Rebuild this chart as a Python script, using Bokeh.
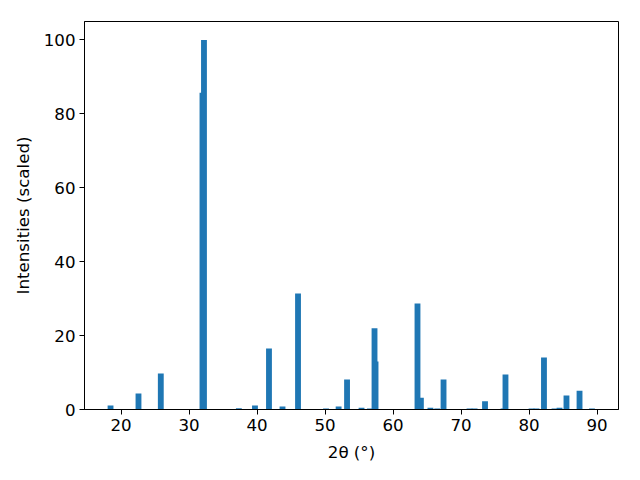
from bokeh.plotting import figure
from bokeh.models import Range1d, FixedTicker
from bokeh.embed import file_html
from bokeh.resources import INLINE

two_theta = [18.46, 22.57, 25.85, 31.98, 32.20, 37.33, 39.70, 41.76, 43.75, 46.03,
             50.15, 52.00, 53.24, 55.37, 56.60, 57.28, 57.43, 63.60, 64.10, 65.50,
             66.50, 67.43, 71.25, 72.00, 73.53, 76.25, 76.54, 80.37, 81.10, 82.20,
             83.75, 84.49, 85.51, 87.43, 89.26]
intensity = [1.1, 4.3, 9.75, 85.7, 100.0, 0.35, 1.1, 16.5, 0.8, 31.4,
             0.3, 0.8, 8.1, 0.5, 0.3, 22.0, 13.0, 28.7, 3.2, 0.5,
             0.3, 8.1, 0.3, 0.3, 2.2, 0.3, 9.5, 0.3, 0.3, 14.1,
             0.3, 0.5, 3.8, 5.1, 0.3]
x_ticks = [20, 30, 40, 50, 60, 70, 80, 90]
y_ticks = [0, 20, 40, 60, 80, 100]

p = figure(width=640, height=480, output_backend="svg", toolbar_location=None,
           x_range=Range1d(14.63, 93.16), y_range=Range1d(0, 105))
p.min_border_left = 84
p.min_border_right = 22
p.min_border_top = 21
p.min_border_bottom = 71

p.vbar(x=two_theta, top=intensity, bottom=0, width=0.86,
       fill_color="#1f77b4", line_color=None)

p.xgrid.visible = False
p.ygrid.visible = False
p.outline_line_color = "black"
p.outline_line_width = 1
p.outline_line_alpha = 1

p.xaxis.ticker = FixedTicker(ticks=x_ticks)
p.yaxis.ticker = FixedTicker(ticks=y_ticks)
p.xaxis.axis_label = "2θ (°)"
p.yaxis.axis_label = "Intensities (scaled)"
for ax in (p.xaxis[0], p.yaxis[0]):
    ax.major_label_text_font = "DejaVu Sans"
    ax.major_label_text_font_size = "16.67px"
    ax.major_label_text_color = "black"
    ax.axis_label_text_font = "DejaVu Sans"
    ax.axis_label_text_font_size = "16.67px"
    ax.axis_label_text_font_style = "normal"
    ax.axis_label_text_color = "black"
    ax.axis_line_color = "black"
    ax.major_tick_line_color = "black"
    ax.major_tick_out = 5
    ax.major_tick_in = 0
    ax.minor_tick_line_color = None
    ax.major_label_standoff = 4
p.xaxis.axis_label_standoff = 9
p.yaxis.axis_label_standoff = 8

open("out.html", "w").write(file_html(p, INLINE))
